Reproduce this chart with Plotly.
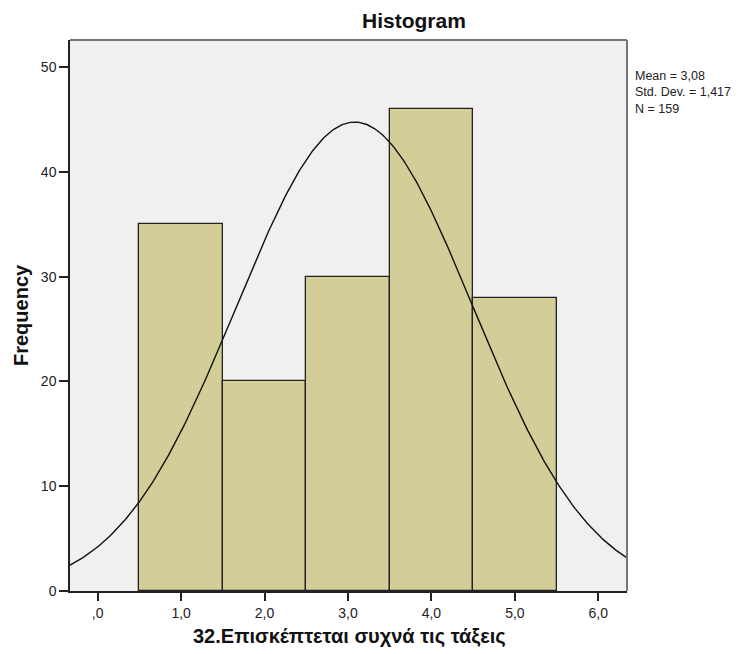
import numpy as np
import plotly.graph_objects as go

# Histogram data: bin centres and counts
bin_centers = [1.0, 2.0, 3.0, 4.0, 5.0]
counts = [35, 20, 30, 46, 28]

# Summary statistics shown beside the plot
MEAN = 3.08
STD = 1.417
N = 159
BIN_WIDTH = 1.0

x_tickvals = [0, 1, 2, 3, 4, 5, 6]
x_ticktext = [",0", "1,0", "2,0", "3,0", "4,0", "5,0", "6,0"]
y_tickvals = [0, 10, 20, 30, 40, 50]
y_ticktext = ["0", "10", "20", "30", "40", "50"]

stats_lines = [
    "Mean = " + f"{MEAN:.2f}".replace(".", ","),
    "Std. Dev. = " + f"{STD:.3f}".replace(".", ","),
    f"N = {N}",
]

X_RANGE = [-0.332, 6.344]
Y_RANGE = [0, 52.6]

W, H = 749, 654
L, R, T, B = 70, 122, 40, 63

# Fitted normal curve scaled to frequency
xs = np.linspace(X_RANGE[0], X_RANGE[1], 400)
ys = N * BIN_WIDTH * np.exp(-0.5 * ((xs - MEAN) / STD) ** 2) / (STD * np.sqrt(2 * np.pi))

fig = go.Figure()
fig.add_trace(go.Bar(
    x=bin_centers, y=counts, width=BIN_WIDTH,
    marker=dict(color="#D3CE97", line=dict(color="#222222", width=1.3)),
    hoverinfo="x+y",
))
fig.add_trace(go.Scatter(
    x=xs, y=ys, mode="lines",
    line=dict(color="#111111", width=1.4),
    hoverinfo="skip",
))

font_family = "Liberation Sans, Arial, sans-serif"
pw, ph = W - L - R, H - T - B


def px_x(px):
    return (px - L) / pw


def px_y(py):
    return (H - B - py) / ph


annotations = [
    dict(text="<b>Histogram</b>", xref="paper", yref="paper",
         x=px_x(414), y=px_y(21), xanchor="center", yanchor="middle",
         showarrow=False, font=dict(size=21, color="#111111")),
    dict(text="<b>Frequency</b>", xref="paper", yref="paper",
         x=px_x(21), y=px_y(315), xanchor="center", yanchor="middle",
         textangle=-90, showarrow=False, font=dict(size=20, color="#111111")),
    dict(text="<b>32.Επισκέπτεται συχνά τις τάξεις</b>", xref="paper", yref="paper",
         x=px_x(349), y=px_y(636), xanchor="center", yanchor="middle",
         showarrow=False, font=dict(size=20, color="#111111")),
    dict(text="<br>".join(stats_lines), xref="paper", yref="paper",
         x=px_x(633), y=px_y(67), xanchor="left", yanchor="top", align="left",
         showarrow=False, font=dict(size=12.5, color="#222222")),
]

fig.update_layout(
    width=W, height=H,
    margin=dict(l=L, r=R, t=T, b=B, pad=0),
    paper_bgcolor="white",
    plot_bgcolor="#F0F0F0",
    showlegend=False,
    bargap=0,
    font=dict(family=font_family, size=14, color="#222222"),
    xaxis=dict(
        range=X_RANGE, tickvals=x_tickvals, ticktext=x_ticktext,
        showgrid=False, zeroline=False,
        ticks="outside", ticklen=8, tickwidth=1.5, tickcolor="#222222",
        showline=True, linecolor="#222222", linewidth=1.5,
        tickfont=dict(size=14, color="#222222"),
    ),
    yaxis=dict(
        range=Y_RANGE, tickvals=y_tickvals, ticktext=y_ticktext,
        showgrid=False, zeroline=False,
        ticks="outside", ticklen=9, tickwidth=1.5, tickcolor="#222222",
        showline=True, linecolor="#222222", linewidth=1.5,
        tickfont=dict(size=14, color="#222222"),
    ),
    shapes=[
        # top and right frame edges
        dict(type="line", xref="paper", yref="paper", x0=0, x1=1, y0=1, y1=1,
             line=dict(color="#777777", width=2)),
        dict(type="line", xref="paper", yref="paper", x0=1, x1=1, y0=0, y1=1,
             line=dict(color="#777777", width=2)),
    ],
    annotations=annotations,
)

fig.write_html("out.html")
